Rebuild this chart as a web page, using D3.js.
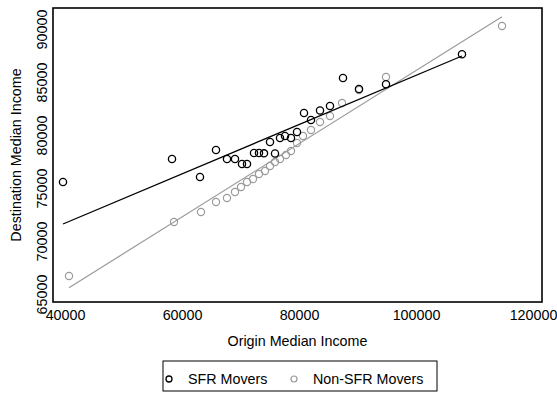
<!DOCTYPE html>
<html>
<head>
<meta charset="utf-8">
<script src="https://cdn.jsdelivr.net/npm/d3@7"></script>
<style>
  body { margin: 0; background: #fff; }
  svg { display: block; }
  text { font-family: "Liberation Sans", Arial, Helvetica, sans-serif; }
</style>
</head>
<body>
<svg id="chart" width="557" height="393"></svg>
<script>
// Origin vs destination median income for movers, by group
const sfrOrigin = [39658, 58291, 63077, 65812, 67692, 69060, 70256, 71111, 72308, 73162,
                   74017, 75043, 75897, 76752, 77607, 78632, 79658, 80855, 82051, 83590,
                   85299, 87521, 90256, 94872, 107863];
const sfrDest   = [75566, 77736, 76038, 78585, 77736, 77736, 77264, 77264, 78302, 78302,
                   78270, 79340, 78255, 79717, 79906, 79717, 80283, 82075, 81415, 82311,
                   82736, 85377, 84340, 84783, 87613];

const nonOrigin = [40684, 58632, 63248, 65812, 67692, 69060, 70085, 71111, 72137, 73162,
                   74188, 75043, 75897, 76752, 77778, 78632, 79658, 80684, 82051, 83590,
                   85299, 87350, 90256, 94872, 114701];
const nonDest   = [66698, 71792, 72736, 73679, 74057, 74623, 75094, 75566, 75849, 76321,
                   76604, 77075, 77453, 77736, 78113, 78491, 79245, 79906, 80472, 81226,
                   81792, 83019, 84245, 85472, 90283];

// fitted lines: [origin, destination] at each end of the series' range
const sfrFit = [[39658, 71604], [107863, 87453]];
const nonFit = [[40684, 65594], [114701, 91161]];

const xTicks = [40000, 60000, 80000, 100000, 120000];
const yTicks = [65000, 70000, 75000, 80000, 85000, 90000];
const seriesNames = ["SFR Movers", "Non-SFR Movers"];
const xTitle = "Origin Median Income";
const yTitle = "Destination Median Income";

const colors = ["#000000", "#9a9a9a"];
const fontSize = 14.3;

const svg = d3.select("#chart");
const frame = { left: 53, right: 542, top: 8, bottom: 302 };

const x = d3.scaleLinear().domain([40000, 120000]).range([65, 533]);
const y = d3.scaleLinear().domain([65000, 90000]).range([294, 29]);

const series = [
  { name: seriesNames[0], xs: sfrOrigin, ys: sfrDest, fit: sfrFit, color: colors[0], sw: 1.3 },
  { name: seriesNames[1], xs: nonOrigin, ys: nonDest, fit: nonFit, color: colors[1], sw: 1.2 }
];

// draw grey series first so black sits on top
[series[1], series[0]].forEach(s => {
  const g = svg.append("g");
  g.selectAll("circle")
    .data(s.xs.map((v, i) => [v, s.ys[i]]))
    .join("circle")
    .attr("cx", d => x(d[0]))
    .attr("cy", d => y(d[1]))
    .attr("r", 3.6)
    .attr("fill", "none")
    .attr("stroke", s.color)
    .attr("stroke-width", s.sw);
  const line = d3.line().x(d => x(d[0])).y(d => y(d[1]));
  g.append("path")
    .attr("d", line(s.fit))
    .attr("fill", "none")
    .attr("stroke", s.color)
    .attr("stroke-width", s.sw);
});

// plot frame
svg.append("rect")
  .attr("x", frame.left).attr("y", frame.top)
  .attr("width", frame.right - frame.left)
  .attr("height", frame.bottom - frame.top)
  .attr("fill", "none").attr("stroke", "#000").attr("stroke-width", 1.6);

// x axis
const xAxis = svg.append("g")
  .attr("transform", `translate(0,${frame.bottom})`)
  .call(d3.axisBottom(x).tickValues(xTicks).tickSize(0).tickFormat(d3.format("d")));
xAxis.select(".domain").remove();
xAxis.selectAll("text")
  .attr("y", 18).attr("dy", 0)
  .attr("fill", "#000")
  .style("font-size", fontSize + "px")
  .style("font-family", '"Liberation Sans", Arial, sans-serif');

// y axis, labels turned vertical
const yAxis = svg.append("g")
  .attr("transform", "translate(47,0)")
  .call(d3.axisLeft(y).tickValues(yTicks).tickSize(0).tickFormat(d3.format("d")));
yAxis.select(".domain").remove();
yAxis.selectAll("text")
  .attr("x", 0).attr("dy", 0)
  .attr("transform", "rotate(-90)")
  .attr("text-anchor", "middle")
  .attr("fill", "#000")
  .style("font-size", fontSize + "px")
  .style("font-family", '"Liberation Sans", Arial, sans-serif');

// axis titles
svg.append("text")
  .attr("x", (frame.left + frame.right) / 2).attr("y", 346)
  .attr("text-anchor", "middle")
  .style("font-size", fontSize + "px")
  .text(xTitle);

svg.append("text")
  .attr("transform", `translate(21,${(frame.top + frame.bottom) / 2}) rotate(-90)`)
  .attr("text-anchor", "middle")
  .style("font-size", fontSize + "px")
  .text(yTitle);

// legend
const legend = svg.append("g");
legend.append("rect")
  .attr("x", 163).attr("y", 361).attr("width", 274).attr("height", 30)
  .attr("fill", "#fff").attr("stroke", "#000").attr("stroke-width", 1);
const legendX = [169, 294];
series.forEach((s, i) => {
  legend.append("circle")
    .attr("cx", legendX[i]).attr("cy", 379).attr("r", 3)
    .attr("fill", "none").attr("stroke", s.color).attr("stroke-width", s.sw);
  legend.append("text")
    .attr("x", legendX[i] + 19).attr("y", 384)
    .style("font-size", fontSize + "px")
    .text(s.name);
});
</script>
</body>
</html>
